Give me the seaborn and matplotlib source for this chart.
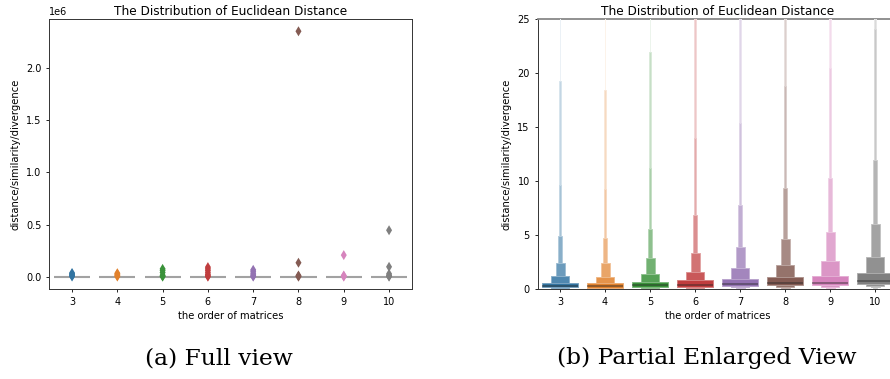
import numpy as np
import matplotlib
matplotlib.use("Agg")
import matplotlib.pyplot as plt
import seaborn as sns

# ---------------- data ----------------
orders = ["3", "4", "5", "6", "7", "8", "9", "10"]

# upper letter values per category, innermost (quartile) -> outermost
upper_3 = [0.58, 1.20, 2.44, 4.90, 9.63, 19.3, 38.5]
upper_4 = [0.53, 1.14, 2.38, 4.70, 9.30, 18.4, 37.0]
upper_5 = [0.68, 1.39, 2.84, 5.60, 11.2, 21.9, 44.0]
upper_6 = [0.80, 1.60, 3.36, 6.85, 14.0, 28.0, 56.0]
upper_7 = [0.95, 1.97, 3.86, 7.78, 15.4, 31.0, 62.0]
upper_8 = [1.11, 2.22, 4.60, 9.32, 18.8, 37.0, 75.0]
upper_9 = [1.23, 2.62, 5.25, 10.3, 20.5, 41.0, 82.0]
upper_10 = [1.45, 2.94, 6.05, 11.9, 24.1, 48.0, 96.0]

# lower letter values per category, innermost -> outermost
lower_3 = [0.14, 0.08, 0.05, 0.03, 0.02, 0.01, 0.005]
lower_4 = [0.13, 0.08, 0.05, 0.03, 0.02, 0.01, 0.005]
lower_5 = [0.17, 0.10, 0.06, 0.04, 0.02, 0.01, 0.005]
lower_6 = [0.22, 0.13, 0.08, 0.05, 0.03, 0.015, 0.007]
lower_7 = [0.30, 0.17, 0.10, 0.06, 0.03, 0.02, 0.01]
lower_8 = [0.33, 0.19, 0.11, 0.07, 0.04, 0.02, 0.01]
lower_9 = [0.37, 0.22, 0.13, 0.08, 0.04, 0.02, 0.01]
lower_10 = [0.46, 0.27, 0.16, 0.09, 0.05, 0.03, 0.015]

medians = [0.28, 0.27, 0.33, 0.40, 0.46, 0.52, 0.59, 0.70]

# outliers per category
outliers_3 = [2000, 10000, 18000, 27000, 36000]
outliers_4 = [1500, 9000, 17000, 26000, 34000]
outliers_5 = [800, 6000, 14000, 40000, 60000, 75000]
outliers_6 = [500, 8000, 20000, 38000, 58000, 75000, 92000]
outliers_7 = [900, 7000, 18000, 34000, 52000, 66000]
outliers_8 = [600, 5000, 12000, 134000, 2350000]
outliers_9 = [700, 6000, 12000, 207000]
outliers_10 = [800, 6000, 14000, 28000, 95000, 445000]

uppers = [upper_3, upper_4, upper_5, upper_6, upper_7, upper_8, upper_9, upper_10]
lowers = [lower_3, lower_4, lower_5, lower_6, lower_7, lower_8, lower_9, lower_10]
outliers = [outliers_3, outliers_4, outliers_5, outliers_6, outliers_7,
            outliers_8, outliers_9, outliers_10]

# ---------------- styling ----------------
plt.rcParams["font.family"] = ["DejaVu Sans"]
plt.rcParams["font.size"] = 7.2
palette = sns.color_palette("tab10", 8, desat=0.75)

W, H = 890, 379
fig = plt.figure(figsize=(W / 100, H / 100), dpi=100)
ax1 = fig.add_axes([49.4 / W, 1 - 289 / H, 362.3 / W, 270 / H])
ax2 = fig.add_axes([537.5 / W, 1 - 289 / H, 360.0 / W, 270 / H])


def mix_white(c, t):
    c = np.array(c[:3])
    return tuple(c * (1 - t) + t)


def draw_boxen(ax, full_view):
    for i, col in enumerate(palette):
        up, lo = uppers[i], lowers[i]
        k = len(up)
        for j in range(k - 1, -1, -1):
            t = 0.85 * j / (k - 1)
            fc = mix_white(col, t)
            ax.bar(i, up[j] - lo[j], bottom=lo[j], width=0.8 * 0.5 ** j,
                   color=fc,
                   edgecolor="none" if full_view else mix_white(fc, 0.35),
                   linewidth=0 if full_view else 0.7, zorder=2 + (k - j))
        if full_view:
            ax.plot([i - 0.4, i + 0.4], [medians[i], medians[i]],
                    color="#a2a2a2", lw=1.5, zorder=20, solid_capstyle="butt")
        else:
            ax.plot([i - 0.4, i + 0.4], [medians[i], medians[i]], color=".15",
                    alpha=0.5, lw=1.2, zorder=20, solid_capstyle="butt")
    xs, ys, hs = [], [], []
    for i, o in enumerate(outliers):
        for v in o:
            xs.append(i)
            ys.append(v)
            hs.append(orders[i])
    sns.scatterplot(x=xs, y=ys, hue=hs, hue_order=orders, palette=palette,
                    marker="d", s=26, linewidth=0, legend=False, ax=ax,
                    zorder=25)


draw_boxen(ax1, full_view=True)
draw_boxen(ax2, full_view=False)

for ax in (ax1, ax2):
    ax.set_xlim(-0.5, 7.5)
    ax.set_xticks(range(len(orders)))
    ax.set_xticklabels(orders)
    ax.set_xlabel("the order of matrices", fontsize=7.2, labelpad=3)
    ax.set_ylabel("distance/similarity/divergence", fontsize=7.2, labelpad=4)
    ax.set_title("The Distribution of Euclidean Distance", fontsize=8.7, pad=3)
    ax.tick_params(length=2.4, width=0.6, pad=3.2, labelsize=7.0)
    for s in ax.spines.values():
        s.set_linewidth(0.7)
        s.set_color("#333333")

ax1.set_ylim(-0.1175e6, 2.4675e6)
ax1.set_yticks([0, 0.5e6, 1.0e6, 1.5e6, 2.0e6])
ax1.yaxis.get_offset_text().set_fontsize(7.0)

ax2.set_ylim(0, 25)
ax2.set_yticks([0, 5, 10, 15, 20, 25])
ax2.spines["top"].set_color("#888888")
ax2.spines["top"].set_linewidth(1.3)

fig.text(219 / W, 1 - 358 / H, "(a) Full view", ha="center", va="center",
         family="DejaVu Serif", fontsize=16.8)
fig.text(706.5 / W, 1 - 358 / H, "(b) Partial Enlarged View", ha="center",
         va="center", family="DejaVu Serif", fontsize=16.8)

fig.savefig("out.png", dpi=100)
